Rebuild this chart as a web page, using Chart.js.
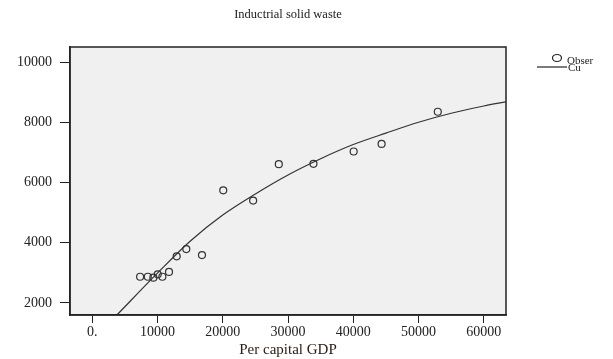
<html>
<head>
<script src="https://cdn.jsdelivr.net/npm/chart.js@4/dist/chart.umd.min.js"></script>
<style>body{margin:0;background:#fff}</style>
</head>
<body>
<canvas id="myChart" width="613" height="359"></canvas>
<script>
// observed points
const gdp = [7340, 8520, 9370, 10040, 10750, 11770, 12950, 14420, 16820, 20080, 24660, 28590, 33900, 40060, 44340, 52950];
const waste = [2870, 2870, 2840, 2950, 2870, 3030, 3550, 3790, 3590, 5740, 5400, 6610, 6620, 7030, 7280, 8350];
// fitted curve
const fitGdp = [3780, 10000, 15000, 20000, 25000, 30000, 35000, 40000, 45000, 50000, 55000, 60000, 63400];
const fitWaste = [1600, 2990, 4050, 4920, 5620, 6250, 6790, 7260, 7640, 8000, 8300, 8540, 8680];
const xTicks = [0, 10000, 20000, 30000, 40000, 50000, 60000];
const yTicks = [2000, 4000, 6000, 8000, 10000];
const legendLabels = ['Obser', 'Cu'];

const serif = '"Liberation Serif", "DejaVu Serif", serif';
const ink = '#222';

const frame = {
	id: 'frame',
	beforeDraw(chart) {
		const { ctx, chartArea: a } = chart;
		ctx.save();
		ctx.fillStyle = '#f0f0f0';
		ctx.fillRect(a.left, a.top, a.right - a.left, a.bottom - a.top);
		ctx.restore();
	},
	afterDraw(chart) {
		const { ctx, chartArea: a } = chart;
		ctx.save();
		ctx.strokeStyle = ink;
		ctx.lineWidth = 1.5;
		ctx.strokeRect(a.left, a.top, a.right - a.left, a.bottom - a.top);
		// title
		ctx.fillStyle = ink;
		ctx.font = '12.5px ' + serif;
		ctx.textAlign = 'center';
		ctx.textBaseline = 'middle';
		ctx.fillText('Inductrial solid waste', (a.left + a.right) / 2, 15);
		// legend
		ctx.textAlign = 'left';
		ctx.font = '11px ' + serif;
		ctx.lineWidth = 1.2;
		ctx.beginPath();
		ctx.ellipse(557, 58, 4.5, 3.5, 0, 0, Math.PI * 2);
		ctx.stroke();
		ctx.fillText(legendLabels[0], 567, 61);
		ctx.beginPath();
		ctx.moveTo(537, 67);
		ctx.lineTo(567, 67);
		ctx.stroke();
		ctx.fillText(legendLabels[1], 568, 68);
		ctx.restore();
	}
};

new Chart(document.getElementById('myChart'), {
	type: 'scatter',
	data: {
		datasets: [
			{
				label: legendLabels[0],
				data: gdp.map((x, i) => ({ x: x, y: waste[i] })),
				pointRadius: 3.5,
				pointBorderWidth: 1.2,
				pointBorderColor: '#333',
				pointBackgroundColor: 'rgba(0,0,0,0)'
			},
			{
				label: legendLabels[1],
				type: 'line',
				data: fitGdp.map((x, i) => ({ x: x, y: fitWaste[i] })),
				showLine: true,
				pointRadius: 0,
				borderColor: '#333',
				borderWidth: 1.2,
				cubicInterpolationMode: 'monotone',
				fill: false
			}
		]
	},
	options: {
		responsive: false,
		animation: false,
		layout: { padding: { top: 47, right: 107, left: 0, bottom: 0 } },
		plugins: { legend: { display: false }, tooltip: { enabled: false } },
		scales: {
			x: {
				type: 'linear',
				min: -3400,
				max: 63400,
				afterBuildTicks: s => { s.ticks = xTicks.map(v => ({ value: v })); },
				afterFit: s => { s.height = 44; },
				ticks: {
					color: ink,
					font: { family: serif, size: 14 },
					padding: 1,
					maxRotation: 0,
					callback: v => v === 0 ? '0.' : String(v)
				},
				grid: { drawOnChartArea: false, tickLength: 8, color: ink },
				border: { color: ink, width: 1.5 },
				title: {
					display: true,
					text: 'Per capital GDP',
					color: '#2a1a10',
					font: { family: serif, size: 15 },
					padding: { top: -2, bottom: 0 }
				}
			},
			y: {
				min: 1600,
				max: 10500,
				afterBuildTicks: s => { s.ticks = yTicks.map(v => ({ value: v })); },
				afterFit: s => { s.width = 70; },
				ticks: {
					color: ink,
					font: { family: serif, size: 14 },
					padding: 8,
					callback: v => String(v)
				},
				grid: { drawOnChartArea: false, tickLength: 10, color: ink },
				border: { color: ink, width: 1.5 }
			}
		}
	},
	plugins: [frame]
});
</script>
</body>
</html>
